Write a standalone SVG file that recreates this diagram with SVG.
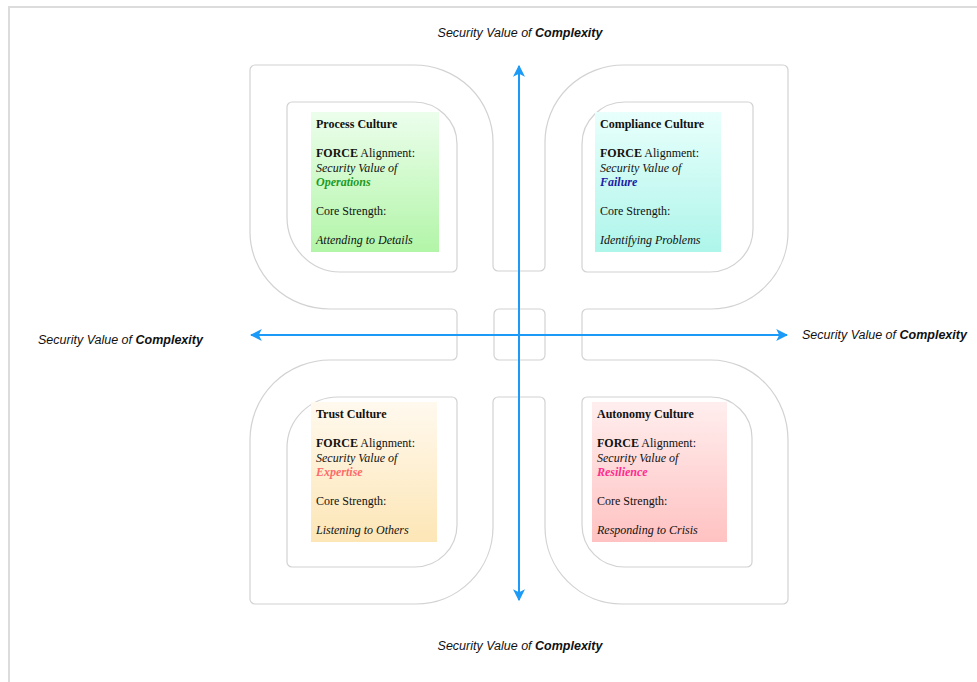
<svg xmlns="http://www.w3.org/2000/svg" width="977" height="682" viewBox="0 0 977 682">
  <style>
    .frame { fill: none; stroke: #dcdcdc; stroke-width: 2; }
    .outline { fill: none; stroke: #d2d2d2; stroke-width: 1.2; }
    .axis { stroke: #1b9bf7; stroke-width: 2; fill: none; }
    .card text { font-family: "Liberation Serif", "Times New Roman", serif; font-size: 12px; fill: #111; }
    .card .title { font-weight: bold; }
    .card .it { font-style: italic; }
    .lbl { font-family: "Liberation Sans", Arial, sans-serif; font-size: 12.5px; font-style: italic; fill: #111; }
    .lbl .b { font-weight: bold; }
  </style>
  <defs>
    <linearGradient id="gGreen" x1="0" y1="0" x2="0" y2="1">
      <stop offset="0" stop-color="#ecfeec"/>
      <stop offset="1" stop-color="#b2f5a8"/>
    </linearGradient>
    <linearGradient id="gCyan" x1="0" y1="0" x2="0" y2="1">
      <stop offset="0" stop-color="#e8fffc"/>
      <stop offset="1" stop-color="#aef5ea"/>
    </linearGradient>
    <linearGradient id="gAmber" x1="0" y1="0" x2="0" y2="1">
      <stop offset="0" stop-color="#fff9ee"/>
      <stop offset="1" stop-color="#fde6b6"/>
    </linearGradient>
    <linearGradient id="gRose" x1="0" y1="0" x2="0" y2="1">
      <stop offset="0" stop-color="#ffeeee"/>
      <stop offset="1" stop-color="#ffc2c2"/>
    </linearGradient>
    <marker id="head" viewBox="0 0 10 10" refX="9" refY="5" markerWidth="6" markerHeight="6" orient="auto-start-reverse" markerUnits="strokeWidth">
      <path d="M0,0 L10,5 L0,10 L2.5,5 Z" fill="#1b9bf7"/>
    </marker>
  </defs>

  <rect width="977" height="682" fill="#ffffff"/>
  <path class="frame" d="M9,682 V7 H977"/>

  <!-- leaf outline with its four channels -->
  <g id="outline">
    <path class="outline" d="M255,65 H414 A79 77 0 0 1 493,142 V266 A5 5 0 0 0 498,271 H540 A5 5 0 0 0 545,266 V142 A79 77 0 0 1 624,65 H783 A5 5 0 0 1 788,70 V232 A77 77 0 0 1 711,309 H587 A5 5 0 0 0 582,314 V355 A5 5 0 0 0 587,360 H711 A77 80 0 0 1 788,440 V599 A5 5 0 0 1 783,604 H622 A77 77 0 0 1 545,527 V402 A5 5 0 0 0 540,397 H498 A5 5 0 0 0 493,402 V527 A77 77 0 0 1 416,604 H255 A5 5 0 0 1 250,599 V440 A80 80 0 0 1 330,360 H452 A5 5 0 0 0 457,355 V314 A5 5 0 0 0 452,309 H330 A80 77 0 0 1 250,232 V70 A5 5 0 0 1 255,65 Z"/>
    <rect class="outline" x="494" y="309" width="51" height="51" rx="5"/>
    <path class="outline" d="M292,102 H414 A43 42 0 0 1 457,144 V267 A5 5 0 0 1 452,272 H340 A53 55 0 0 1 287,217 V107 A5 5 0 0 1 292,102 Z"/>
    <path class="outline" d="M625,102 H748 A5 5 0 0 1 753,107 V229 A43 43 0 0 1 710,272 H587 A5 5 0 0 1 582,267 V144 A43 42 0 0 1 625,102 Z"/>
    <path class="outline" d="M338,397 H452 A5 5 0 0 1 457,402 V525 A42 42 0 0 1 415,567 H292 A5 5 0 0 1 287,562 V448 A51 51 0 0 1 338,397 Z"/>
    <path class="outline" d="M587,397 H711 A41 41 0 0 1 752,438 V562 A5 5 0 0 1 747,567 H624 A42 42 0 0 1 582,525 V402 A5 5 0 0 1 587,397 Z"/>
  </g>

  <!-- axes -->
  <g id="connectors">
    <line class="axis" x1="519" y1="600" x2="519" y2="66" marker-start="url(#head)" marker-end="url(#head)"/>
    <line class="axis" x1="251" y1="335" x2="787" y2="335" marker-start="url(#head)" marker-end="url(#head)"/>
  </g>

  <!-- axis labels -->
  <text class="lbl" x="520" y="37" text-anchor="middle">Security Value of <tspan class="b">Complexity</tspan></text>
  <text class="lbl" x="520" y="650" text-anchor="middle">Security Value of <tspan class="b">Complexity</tspan></text>
  <text class="lbl" x="38" y="344">Security Value of <tspan class="b">Complexity</tspan></text>
  <text class="lbl" x="802" y="339">Security Value of <tspan class="b">Complexity</tspan></text>

  <!-- culture cards -->
  <g id="process" class="card">
    <rect x="311" y="112" width="128" height="140" fill="url(#gGreen)"/>
    <text x="316" y="128" class="title">Process Culture</text>
    <text x="316" y="157"><tspan class="title">FORCE</tspan> Alignment:</text>
    <text x="316" y="171.5" class="it">Security Value of</text>
    <text x="316" y="186" class="it title" style="fill:#1f9a1f">Operations</text>
    <text x="316" y="215">Core Strength:</text>
    <text x="316" y="244" class="it">Attending to Details</text>
  </g>

  <g id="compliance" class="card">
    <rect x="595" y="112" width="126" height="140" fill="url(#gCyan)"/>
    <text x="600" y="128" class="title">Compliance Culture</text>
    <text x="600" y="157"><tspan class="title">FORCE</tspan> Alignment:</text>
    <text x="600" y="171.5" class="it">Security Value of</text>
    <text x="600" y="186" class="it title" style="fill:#1c1ca6">Failure</text>
    <text x="600" y="215">Core Strength:</text>
    <text x="600" y="244" class="it">Identifying Problems</text>
  </g>

  <g id="trust" class="card">
    <rect x="311" y="402" width="126" height="140" fill="url(#gAmber)"/>
    <text x="316" y="418" class="title">Trust Culture</text>
    <text x="316" y="447"><tspan class="title">FORCE</tspan> Alignment:</text>
    <text x="316" y="461.5" class="it">Security Value of</text>
    <text x="316" y="476" class="it title" style="fill:#ff6b6b">Expertise</text>
    <text x="316" y="505">Core Strength:</text>
    <text x="316" y="534" class="it">Listening to Others</text>
  </g>

  <g id="autonomy" class="card">
    <rect x="592" y="402" width="135" height="140" fill="url(#gRose)"/>
    <text x="597" y="418" class="title">Autonomy Culture</text>
    <text x="597" y="447"><tspan class="title">FORCE</tspan> Alignment:</text>
    <text x="597" y="461.5" class="it">Security Value of</text>
    <text x="597" y="476" class="it title" style="fill:#ff2d8f">Resilience</text>
    <text x="597" y="505">Core Strength:</text>
    <text x="597" y="534" class="it">Responding to Crisis</text>
  </g>
</svg>
